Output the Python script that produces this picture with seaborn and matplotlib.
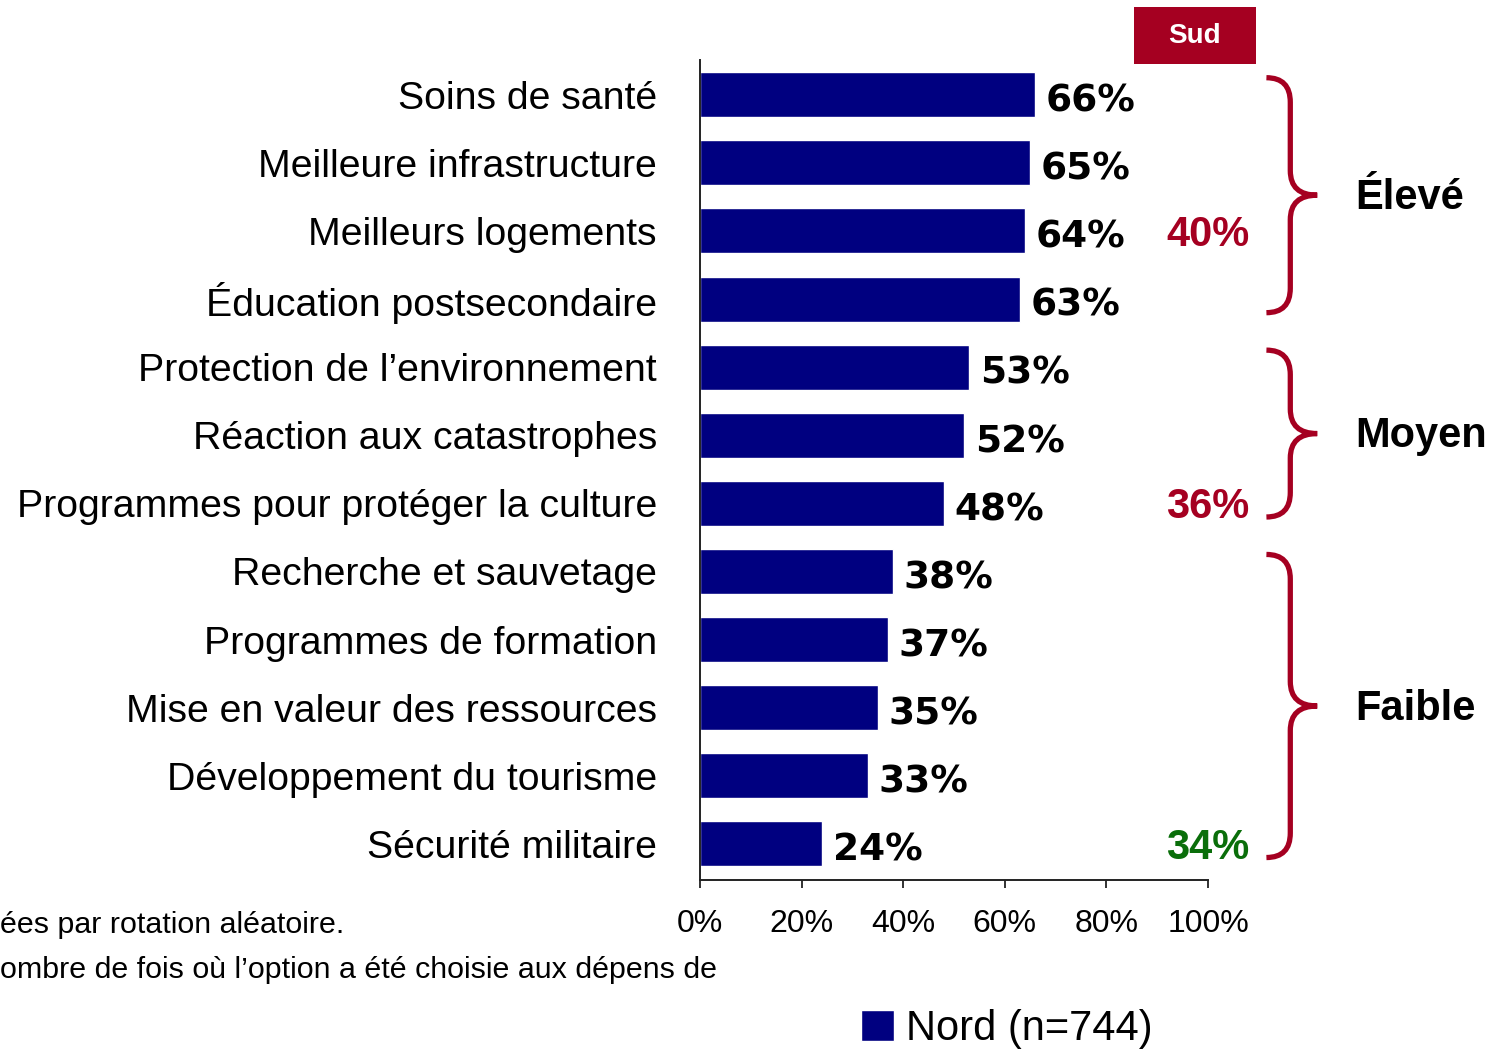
import matplotlib
matplotlib.use("Agg")
import matplotlib.pyplot as plt
from matplotlib.path import Path
from matplotlib.patches import PathPatch, Rectangle
from matplotlib import font_manager
import seaborn as sns
import pandas as pd

# data
categories = [
    "Soins de santé",
    "Meilleure infrastructure",
    "Meilleurs logements",
    "Éducation postsecondaire",
    "Protection de l’environnement",
    "Réaction aux catastrophes",
    "Programmes pour protéger la culture",
    "Recherche et sauvetage",
    "Programmes de formation",
    "Mise en valeur des ressources",
    "Développement du tourisme",
    "Sécurité militaire",
]
nord_values = [66, 65, 64, 63, 53, 52, 48, 38, 37, 35, 33, 24]
series_label = "Nord (n=744)"

# Sud column: one value per group
sud_values = [40, 36, 34]
sud_rows = [2, 6, 11]
sud_colors = ["#A50021", "#A50021", "#0A6E0A"]

groups = ["Élevé", "Moyen", "Faible"]
group_rows = [(0, 3), (4, 6), (7, 11)]

x_ticks = [0, 20, 40, 60, 80, 100]

NAVY = "#000080"
RED = "#A50021"

sns.set_theme(style="white")

available = {f.name for f in font_manager.fontManager.ttflist}
narrow = "Liberation Sans Narrow" if "Liberation Sans Narrow" in available else None
plt.rcParams["font.family"] = ["Liberation Sans", "DejaVu Sans"]
for key in ["text.color", "axes.labelcolor", "xtick.color", "ytick.color"]:
    plt.rcParams[key] = "black"

# condensed font when available, otherwise regular at a size that keeps the widths
if narrow:
    cat_font, cat_size, note_size = narrow, 33.5, 25.8
else:
    cat_font, cat_size, note_size = "Liberation Sans", 28.3, 21.9

df = pd.DataFrame({"category": categories, "value": nord_values})

fig = plt.figure(figsize=(14.98, 10.49), dpi=100)
ax = fig.add_axes([700 / 1498, 1 - 880 / 1049, 508 / 1498, 820 / 1049])

sns.barplot(
    data=df,
    x="value",
    y="category",
    orient="h",
    color=NAVY,
    saturation=1,
    width=0.66,
    label=series_label,
    ax=ax,
)

ax.set_xlim(0, 100)
ax.set_ylim(11.53, -0.51)
ax.set_xlabel("")
ax.set_ylabel("")

# spines and ticks
for side in ["top", "right"]:
    ax.spines[side].set_visible(False)
for side in ["left", "bottom"]:
    ax.spines[side].set_color("#222222")
    ax.spines[side].set_linewidth(1.4)

ax.set_xticks(x_ticks)
ax.set_xticklabels([f"{t}%" for t in x_ticks], fontsize=23, family="Liberation Sans")
ax.tick_params(axis="x", direction="out", length=6, width=1.3, color="#222222", pad=15, bottom=True)
ax.tick_params(axis="y", length=0, pad=31)
for lbl in ax.get_yticklabels():
    lbl.set_fontfamily(cat_font)
    lbl.set_fontsize(cat_size)

# value labels on bars
for i, v in enumerate(nord_values):
    ax.text(v + 2.1, i + 0.1, f"{v}%", va="center", ha="left",
            fontsize=27, fontweight="bold", family="DejaVu Sans", color="black")

# Sud values
for v, r, c in zip(sud_values, sud_rows, sud_colors):
    ax.text(100, r + 0.06, f"{v}%", va="center", ha="center", fontsize=30,
            fontweight="bold", color=c, clip_on=False)

# Sud header box
ax.add_patch(Rectangle((85.4, -1.29), 24.0, 0.84, facecolor=RED, edgecolor="none",
                       clip_on=False))
ax.text(97.4, -0.86, "Sud", ha="center", va="center", color="white",
        fontsize=20, fontweight="bold", clip_on=False)


def brace(ax, top, bottom, x0=111.5, x1=116.2, xp=121.5, r=0.36):
    mid = (top + bottom) / 2
    verts = [
        (x0, top), (x1, top), (x1, top + r),
        (x1, mid - r), (x1, mid), (xp, mid),
        (x1, mid), (x1, mid + r),
        (x1, bottom - r), (x1, bottom), (x0, bottom),
    ]
    codes = [
        Path.MOVETO, Path.CURVE3, Path.CURVE3,
        Path.LINETO, Path.CURVE3, Path.CURVE3,
        Path.CURVE3, Path.CURVE3,
        Path.LINETO, Path.CURVE3, Path.CURVE3,
    ]
    ax.add_patch(PathPatch(Path(verts, codes), facecolor="none", edgecolor=RED,
                           linewidth=3.8, capstyle="butt", clip_on=False))
    return mid


for name, (first, last) in zip(groups, group_rows):
    mid = brace(ax, first - 0.25, last + 0.2)
    ax.text(128.9, mid + 0.04, name, ha="left", va="center", fontsize=30,
            fontweight="bold", color="black", clip_on=False)

# legend
ax.legend(
    loc="center",
    bbox_to_anchor=(1007 / 1498, 1 - 1029 / 1049),
    bbox_transform=fig.transFigure,
    frameon=False,
    fontsize=30,
    handlelength=0.79,
    handleheight=0.79,
    handletextpad=0.3,
)

# cut-off footnote lines
fig.text(0, 1 - 925 / 1049, "ées par rotation aléatoire.", ha="left", va="center",
         fontsize=note_size, family=cat_font)
fig.text(0, 1 - 970 / 1049, "ombre de fois où l’option a été choisie aux dépens de",
         ha="left", va="center", fontsize=note_size, family=cat_font)

fig.savefig("out.png", dpi=100, facecolor="white")
